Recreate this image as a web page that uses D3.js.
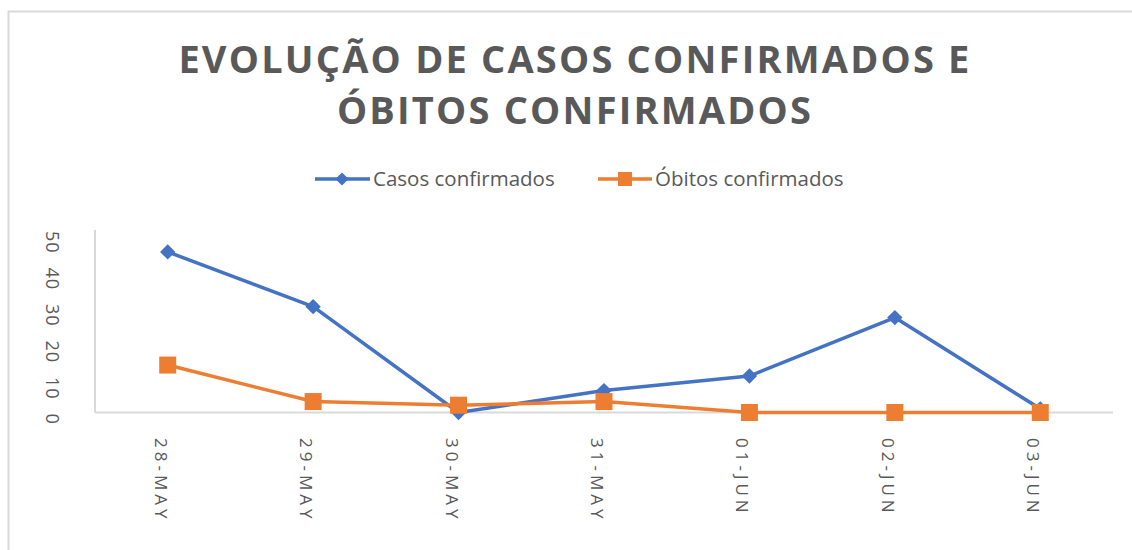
<!DOCTYPE html>
<html>
<head>
<meta charset="utf-8">
<script src="https://cdn.jsdelivr.net/npm/d3@7"></script>
<style>
  body { margin: 0; background: #fff; }
  text { font-family: "Open Sans", sans-serif; fill: #595959; }
</style>
</head>
<body>
<div id="chart"></div>
<script>
// Data
var dates = ["28-MAY", "29-MAY", "30-MAY", "31-MAY", "01-JUN", "02-JUN", "03-JUN"];
var casos = [44, 29, 0, 6, 10, 26, 1];
var obitos = [13, 3, 2, 3, 0, 0, 0];
var yTicks = [0, 10, 20, 30, 40, 50];
var titleLines = ["EVOLUÇÃO DE CASOS CONFIRMADOS E", "ÓBITOS CONFIRMADOS"];

var width = 1132, height = 550;
var plot = { left: 95, right: 1113, top: 230, bottom: 412.5 };

var svg = d3.select("#chart")
  .append("svg")
  .attr("width", width)
  .attr("height", height);

// outer chart border (cut off by the window on the right and bottom)
svg.append("rect")
  .attr("x", 8.5)
  .attr("y", 11.5)
  .attr("width", 1200)
  .attr("height", 600)
  .attr("fill", "none")
  .attr("stroke", "#d9d9d9")
  .attr("stroke-width", 2);

// title
svg.append("g")
  .selectAll("text")
  .data(titleLines)
  .enter()
  .append("text")
  .attr("x", 575)
  .attr("y", function (d, i) { return 73 + i * 51; })
  .attr("text-anchor", "middle")
  .style("font-size", "38px")
  .style("font-weight", "bold")
  .style("letter-spacing", "2.2px")
  .text(function (d) { return d; });

// scales
var xScale = d3.scalePoint()
  .domain(dates)
  .range([plot.left, plot.right])
  .padding(0.5);

var yScale = d3.scaleLinear()
  .domain([0, 50])
  .range([plot.bottom, plot.top]);

// axes lines
svg.append("line")
  .attr("x1", plot.left).attr("x2", plot.left)
  .attr("y1", plot.top).attr("y2", plot.bottom)
  .attr("stroke", "#d9d9d9").attr("stroke-width", 2);

svg.append("line")
  .attr("x1", plot.left).attr("x2", plot.right)
  .attr("y1", plot.bottom).attr("y2", plot.bottom)
  .attr("stroke", "#d9d9d9").attr("stroke-width", 2);

// y tick labels, rotated
svg.append("g")
  .selectAll("text")
  .data(yTicks)
  .enter()
  .append("text")
  .attr("transform", function (d) {
    return "translate(46," + (yScale(d) + 1) + ") rotate(90)";
  })
  .attr("text-anchor", "start")
  .style("font-size", "18px")
  .style("letter-spacing", "1px")
  .text(function (d) { return d; });

// x tick labels, rotated
svg.append("g")
  .selectAll("text")
  .data(dates)
  .enter()
  .append("text")
  .attr("transform", function (d) {
    return "translate(" + (xScale(d) - 13) + ",438) rotate(90)";
  })
  .attr("text-anchor", "start")
  .style("font-size", "17px")
  .style("letter-spacing", "4px")
  .text(function (d) { return d; });

var line = d3.line()
  .x(function (d, i) { return xScale(dates[i]); })
  .y(function (d) { return yScale(d); });

var blue = "#4472C4", orange = "#ED7D31";

// Casos confirmados
svg.append("path")
  .datum(casos)
  .attr("d", line)
  .attr("fill", "none")
  .attr("stroke", blue)
  .attr("stroke-width", 3.5)
  .attr("stroke-linejoin", "round");

svg.append("g")
  .selectAll("path")
  .data(casos)
  .enter()
  .append("path")
  .attr("d", d3.symbol().type(d3.symbolDiamond2).size(150))
  .attr("transform", function (d, i) {
    return "translate(" + xScale(dates[i]) + "," + yScale(d) + ")";
  })
  .attr("fill", blue);

// Óbitos confirmados
svg.append("path")
  .datum(obitos)
  .attr("d", line)
  .attr("fill", "none")
  .attr("stroke", orange)
  .attr("stroke-width", 3.5)
  .attr("stroke-linejoin", "round");

svg.append("g")
  .selectAll("rect")
  .data(obitos)
  .enter()
  .append("rect")
  .attr("x", function (d, i) { return xScale(dates[i]) - 8.5; })
  .attr("y", function (d) { return yScale(d) - 8.5; })
  .attr("width", 17)
  .attr("height", 17)
  .attr("fill", orange);

// legend
var legend = svg.append("g");

legend.append("line")
  .attr("x1", 315).attr("x2", 370).attr("y1", 179).attr("y2", 179)
  .attr("stroke", blue).attr("stroke-width", 3.5);
legend.append("path")
  .attr("d", d3.symbol().type(d3.symbolDiamond2).size(110))
  .attr("transform", "translate(342,179)")
  .attr("fill", blue);
legend.append("text")
  .attr("x", 373).attr("y", 186)
  .style("font-size", "20.5px")
  .text("Casos confirmados");

legend.append("line")
  .attr("x1", 598).attr("x2", 652).attr("y1", 179).attr("y2", 179)
  .attr("stroke", orange).attr("stroke-width", 3.5);
legend.append("rect")
  .attr("x", 618).attr("y", 172).attr("width", 14).attr("height", 14)
  .attr("fill", orange);
legend.append("text")
  .attr("x", 655).attr("y", 186)
  .style("font-size", "20.5px")
  .text("Óbitos confirmados");
</script>
</body>
</html>
